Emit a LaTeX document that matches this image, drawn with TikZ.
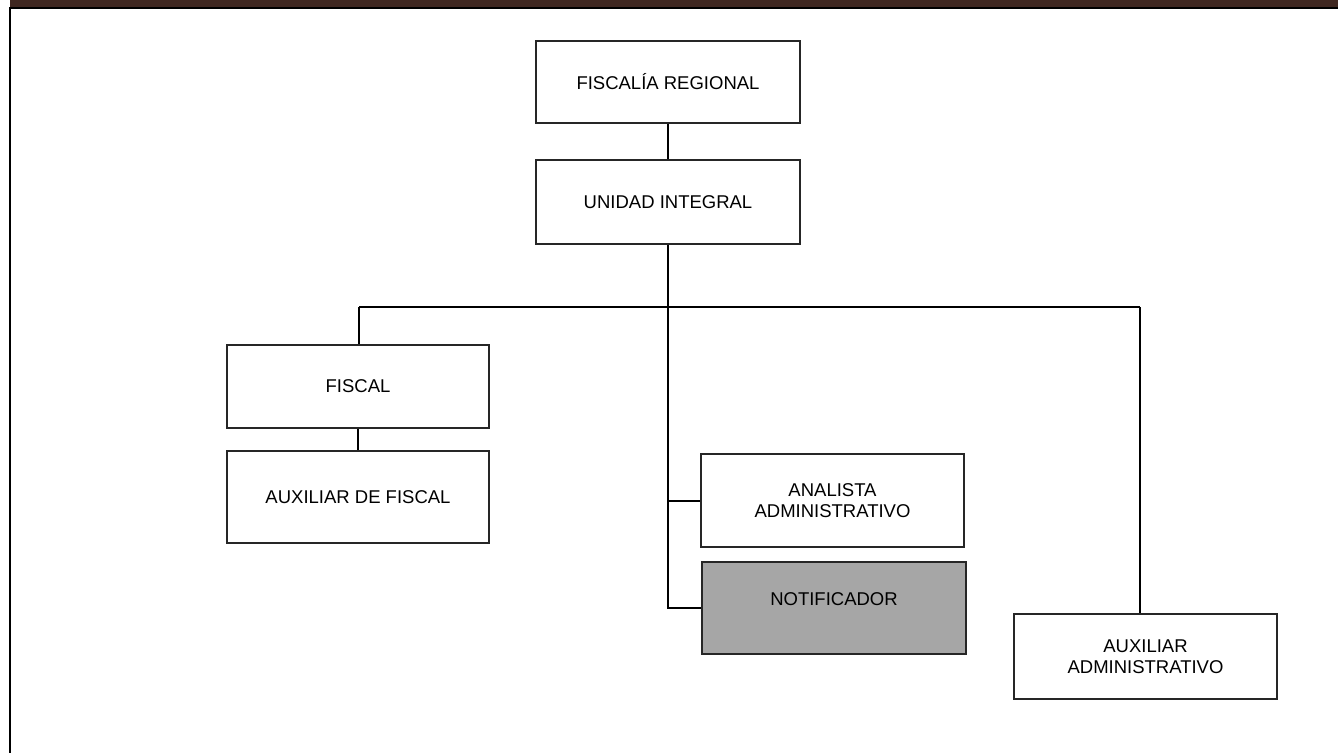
\documentclass[tikz,border=0pt]{standalone}
\usepackage{fontspec}
\setmainfont{Liberation Sans}
\usepackage{xcolor}
\usepackage{tikz}
\definecolor{barbrown}{RGB}{63,39,32}
\definecolor{notegray}{RGB}{166,166,166}
\begin{document}
\begin{tikzpicture}[x=1pt,y=-1pt,
    unit/.style = {draw=black!85, line width=1.6pt, fill=white,
      font=\fontsize{18.5}{20.7}\selectfont, align=center, inner sep=0pt},
    wide/.style = {minimum width=264pt},
    link/.style = {line width=2pt, black}]
  \useasboundingbox (0,0) rectangle (1338,753);
  % page frame
  \fill[barbrown] (10,0) rectangle (1338,7);
  \draw[line width=2.5pt] (10,8) -- (1338,8);
  \draw[line width=2.5pt] (10,7) -- (10,753);

  \node[unit,wide,minimum height=82pt] (fiscreg) at (668,82) {FISCALÍA REGIONAL};
  \node[unit,wide,minimum height=84pt] (unidad) at (668,202) {UNIDAD INTEGRAL};
  \node[unit,minimum width=262pt,minimum height=83pt] (fiscal) at (358,386.5) {FISCAL};
  \node[unit,minimum width=262pt,minimum height=92pt] (auxfiscal) at (358,497) {AUXILIAR DE FISCAL};
  \node[unit,minimum width=263pt,minimum height=93pt] (analista) at (832.5,500.5)
    {ANALISTA\\ADMINISTRATIVO};
  \node[unit,wide,minimum height=92pt,fill=notegray,text depth=18pt] (notif) at (834,608)
    {NOTIFICADOR};
  \node[unit,minimum width=263pt,minimum height=85pt] (auxadmin) at (1145.5,656.5)
    {AUXILIAR\\ADMINISTRATIVO};

  \coordinate (busL) at (359,307);
  \coordinate (busR) at (1140,307);

  \draw[link] (fiscreg) -- (unidad);
  \draw[link] (busL) -- (busR);
  \draw[link] (unidad.south) |- (notif.west);
  \draw[link] (unidad.south |- analista.west) -- (analista.west);
  \draw[link] (busL) -- (busL |- fiscal.north);
  \draw[link] (fiscal) -- (auxfiscal);
  \draw[link] (busR) -- (busR |- auxadmin.north);
\end{tikzpicture}
\end{document}
